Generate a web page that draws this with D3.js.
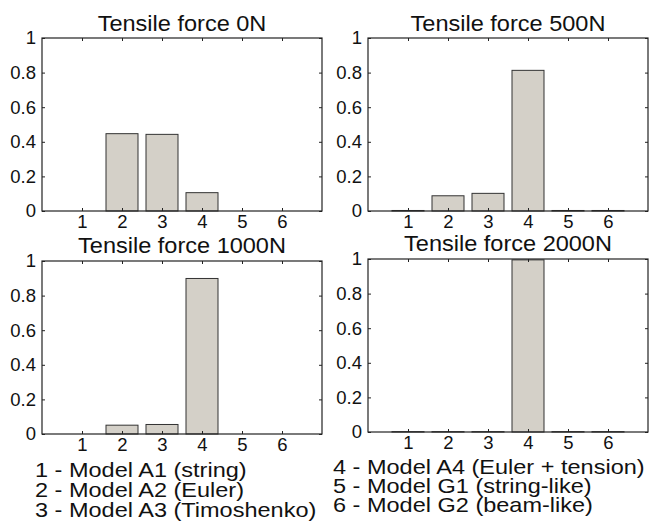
<!DOCTYPE html>
<html>
<head>
<meta charset="utf-8">
<script src="https://cdn.jsdelivr.net/npm/d3@7"></script>
<style>
    body { margin: 0; background: #fff; }
    svg { font-family: 'Liberation Sans', Arial, sans-serif; }
    .axis path, .axis line { stroke: #222; }
    .axis text { font-size: 18.5px; fill: #111; }
</style>
</head>
<body>
<script>
const models = [1, 2, 3, 4, 5, 6];
const titles = ['Tensile force 0N', 'Tensile force 500N', 'Tensile force 1000N', 'Tensile force 2000N'];
const force0 = [0, 0.447, 0.443, 0.106, 0, 0];
const force500 = [0.003, 0.088, 0.102, 0.813, 0.003, 0.003];
const force1000 = [0, 0.051, 0.055, 0.899, 0, 0];
const force2000 = [0.002, 0.002, 0.002, 0.995, 0.002, 0.002];
const yTicks = [0, 0.2, 0.4, 0.6, 0.8, 1];
const legendLeft = ['1 - Model A1 (string)', '2 - Model A2 (Euler)', '3 - Model A3 (Timoshenko)'];
const legendRight = ['4 - Model A4 (Euler + tension)', '5 - Model G1 (string-like)', '6 - Model G2 (beam-like)'];

const series = [force0, force500, force1000, force2000];

// panel boxes [left, right, top, bottom] and title baselines
const panels = [
    { l: 42, r: 322, t: 38, b: 211, tb: 31 },
    { l: 368, r: 648, t: 38, b: 211, tb: 31 },
    { l: 42, r: 322, t: 261, b: 434, tb: 253 },
    { l: 368, r: 648, t: 259, b: 432, tb: 251 },
];

const chart = d3.select('body')
    .append('svg')
    .attr('width', 654)
    .attr('height', 528);

panels.forEach((p, i) => {
    const data = series[i].map((v, j) => ({ model: models[j], value: v }));

    const x = d3.scaleLinear().domain([0, 7]).range([p.l, p.r]);
    const y = d3.scaleLinear().domain([0, 1]).range([p.b, p.t]);
    const barW = x(0.8) - x(0);

    const g = chart.append('g');

    g.selectAll('rect.bar')
        .data(data)
        .enter()
        .append('rect')
        .attr('class', 'bar')
        .attr('x', d => x(d.model) - barW / 2)
        .attr('y', d => y(d.value))
        .attr('width', barW)
        .attr('height', d => y(0) - y(d.value))
        .attr('fill', '#d4d0c8')
        .attr('stroke', '#333')
        .attr('stroke-width', 1);

    // box
    g.append('rect')
        .attr('x', p.l).attr('y', p.t)
        .attr('width', p.r - p.l).attr('height', p.b - p.t)
        .attr('fill', 'none')
        .attr('stroke', '#222')
        .attr('stroke-width', 1.2);

    g.append('g')
        .attr('class', 'axis')
        .attr('transform', `translate(${p.l},0)`)
        .call(d3.axisLeft(y).tickValues(yTicks).tickFormat(d3.format('~g'))
            .tickSizeInner(-3).tickSizeOuter(0).tickPadding(6));
    g.append('g')
        .attr('class', 'axis')
        .attr('transform', `translate(${p.r},0)`)
        .call(d3.axisRight(y).tickValues(yTicks).tickFormat('')
            .tickSizeInner(-3).tickSizeOuter(0));
    g.append('g')
        .attr('class', 'axis')
        .attr('transform', `translate(0,${p.b})`)
        .call(d3.axisBottom(x).tickValues(models).tickFormat(d3.format('d'))
            .tickSizeInner(-3).tickSizeOuter(0).tickPadding(4));
    g.append('g')
        .attr('class', 'axis')
        .attr('transform', `translate(0,${p.t})`)
        .call(d3.axisTop(x).tickValues(models).tickFormat('')
            .tickSizeInner(-3).tickSizeOuter(0));

    g.selectAll('.axis .domain').remove();

    g.append('text')
        .attr('transform', `translate(${(p.l + p.r) / 2},${p.tb}) scale(1.07,1)`)
        .attr('text-anchor', 'middle')
        .attr('font-size', '22px')
        .attr('fill', '#111')
        .text(titles[i]);
});

const legendCols = [
    { lines: legendLeft, x: 35, y0: 477, dy: 20 },
    { lines: legendRight, x: 333, y0: 474, dy: 19 },
];
legendCols.forEach(col => {
    chart.selectAll(null)
        .data(col.lines)
        .enter()
        .append('text')
        .attr('transform', (d, i) => `translate(${col.x},${col.y0 + i * col.dy}) scale(1.12,1)`)
        .attr('font-size', '21px')
        .attr('fill', '#111')
        .text(d => d);
});
</script>
</body>
</html>
